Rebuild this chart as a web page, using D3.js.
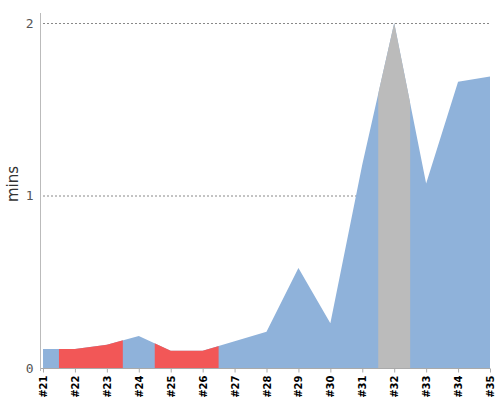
<!DOCTYPE html>
<html>
<head>
<meta charset="utf-8">
<script src="https://cdn.jsdelivr.net/npm/d3@7"></script>
<style>
  body { margin: 0; background: #fff; }
</style>
</head>
<body>
<script>
const categories = ["#21","#22","#23","#24","#25","#26","#27","#28","#29","#30","#31","#32","#33","#34","#35"];
const values = [0.11, 0.11, 0.135, 0.186, 0.1, 0.1, 0.155, 0.21, 0.58, 0.26, 1.18, 2.0, 1.07, 1.66, 1.69];
// band colour for each point
const status = ["ok","bad","bad","ok","bad","bad","ok","ok","ok","ok","ok","skip","ok","ok","ok"];
const yTicks = [0, 1, 2];

const width = 500, height = 400;
const colors = { ok: "#8fb2da", bad: "#f25757", skip: "#bbbbbb" };

const svg = d3.select("body").append("svg")
    .attr("width", width)
    .attr("height", height);

const xScale = d3.scalePoint()
    .domain(categories)
    .range([43, 490]);

const yScale = d3.scaleLinear()
    .domain([0, 2])
    .range([368, 23]);

const step = xScale.step();

// grid lines
svg.append("g")
    .selectAll("line")
    .data(yTicks.filter(t => t > 0))
    .join("line")
    .attr("x1", 43)
    .attr("x2", 490)
    .attr("y1", d => yScale(d) + 0.5)
    .attr("y2", d => yScale(d) + 0.5)
    .attr("stroke", "#888")
    .attr("stroke-width", 1)
    .attr("stroke-dasharray", "2,2");

const area = d3.area()
    .x((d, i) => xScale(categories[i]))
    .y0(yScale(0))
    .y1(d => yScale(d));

// group neighbouring points with the same status, so bands have no seams
let runs = [];
status.forEach((s, i) => {
    const last = runs[runs.length - 1];
    if (last && last.status === s) last.end = i;
    else runs.push({ status: s, start: i, end: i });
});
runs = runs.filter(r => r.status !== "ok");

// base area in blue
svg.append("path")
    .attr("d", area(values))
    .attr("fill", colors.ok);

const defs = svg.append("defs");
runs.forEach((r, k) => {
    const x0 = Math.max(xScale(categories[r.start]) - step / 2, 43);
    const x1 = Math.min(xScale(categories[r.end]) + step / 2, 490);
    defs.append("clipPath")
        .attr("id", "run" + k)
        .append("rect")
        .attr("x", x0)
        .attr("y", 0)
        .attr("width", x1 - x0)
        .attr("height", height);
});

svg.append("g")
    .selectAll("path")
    .data(runs)
    .join("path")
    .attr("d", area(values))
    .attr("clip-path", (d, k) => "url(#run" + k + ")")
    .attr("fill", d => colors[d.status]);

// x axis
const xAxis = svg.append("g")
    .attr("transform", "translate(0,368.5)")
    .call(d3.axisBottom(xScale).tickSize(4).tickSizeOuter(0));
xAxis.select(".domain").attr("stroke", "#aaa").attr("d", "M40,0H490");
xAxis.selectAll(".tick line").attr("stroke", "#aaa");
xAxis.selectAll("text")
    .attr("transform", "rotate(-90)")
    .attr("x", -7)
    .attr("y", 0)
    .attr("dy", "0.35em")
    .style("text-anchor", "end")
    .style("font-family", "DejaVu Sans")
    .style("font-size", "10px")
    .style("font-weight", "bold")
    .attr("fill", "#000");

// y axis
const yAxis = svg.append("g")
    .attr("transform", "translate(40.5,0)")
    .call(d3.axisLeft(yScale).tickValues(yTicks).tickFormat(d3.format("d")).tickSize(0).tickPadding(7));
yAxis.select(".domain").attr("stroke", "#bbb").attr("d", "M0,13V371");
yAxis.selectAll("text")
    .style("font-family", "DejaVu Sans Mono")
    .style("font-size", "13px")
    .attr("fill", "#555");

svg.append("text")
    .attr("transform", "translate(18,184) rotate(-90)")
    .attr("text-anchor", "middle")
    .style("font-family", "DejaVu Sans")
    .style("font-size", "15px")
    .attr("fill", "#333")
    .text("mins");
</script>
</body>
</html>
